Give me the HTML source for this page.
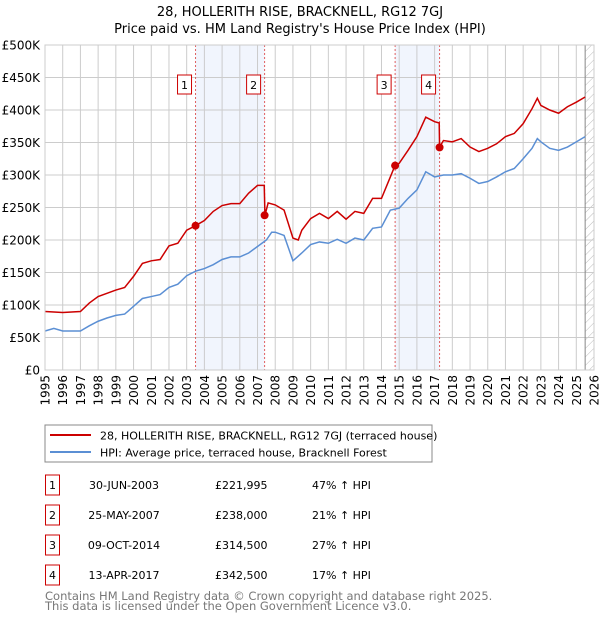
<!DOCTYPE html>
<html><head><meta charset="utf-8"><style>
body{margin:0;background:#fff;font-family:"DejaVu Sans","Liberation Sans",sans-serif;}
svg text{font-family:"DejaVu Sans","Liberation Sans",sans-serif;}
</style></head><body>
<svg id="c" width="600" height="620" xmlns="http://www.w3.org/2000/svg">
<defs><pattern id="hatch" width="6" height="6" patternUnits="userSpaceOnUse" patternTransform="rotate(45)"><line x1="0" y1="0" x2="0" y2="6" stroke="#bbb" stroke-width="1"/></pattern></defs>
<text x="300" y="16" text-anchor="middle" font-size="13">28, HOLLERITH RISE, BRACKNELL, RG12 7GJ</text>
<text x="300" y="33" text-anchor="middle" font-size="13">Price paid vs. HM Land Registry's House Price Index (HPI)</text>
<g id="plot"></g>
<rect x="45" y="425" width="387" height="37" fill="#fff" stroke="#888"/>
<line x1="50" y1="435" x2="91" y2="435" stroke="#cc0000" stroke-width="2"/>
<text x="100" y="439.5" font-size="11">28, HOLLERITH RISE, BRACKNELL, RG12 7GJ (terraced house)</text>
<line x1="50" y1="452" x2="91" y2="452" stroke="#5b8fd4" stroke-width="2"/>
<text x="100" y="456.5" font-size="11">HPI: Average price, terraced house, Bracknell Forest</text>
<g id="table" font-size="11"></g>
<text x="45" y="600" font-size="11.5" fill="#777">Contains HM Land Registry data © Crown copyright and database right 2025.</text>
<text x="45" y="610" font-size="11.5" fill="#777">This data is licensed under the Open Government Licence v3.0.</text>
</svg>
<script>
const hpiYears=[1995,1995.5,1996,1997,1997.5,1998,1998.5,1999,1999.5,2000,2000.5,2001,2001.5,2002,2002.5,2003,2003.5,2004,2004.5,2005,2005.5,2006,2006.5,2007,2007.5,2007.8,2008,2008.5,2009,2009.5,2010,2010.5,2011,2011.5,2012,2012.5,2013,2013.5,2014,2014.5,2015,2015.5,2016,2016.5,2017,2017.5,2018,2018.5,2019,2019.5,2020,2020.5,2021,2021.5,2022,2022.5,2022.8,2023,2023.5,2024,2024.5,2025,2025.5];
const hpiValues=[60,64,60,60,68,75,80,84,86,98,110,113,116,127,132,145,152,156,162,170,174,174,180,190,200,212,212,207,168,180,193,197,195,201,195,203,200,218,220,246,249,264,277,305,297,300,300,302,295,287,290,297,305,310,325,341,356,351,341,338,343,351,359];
const redYears=[1995,1996,1997,1997.5,1998,1998.5,1999,1999.5,2000,2000.5,2001,2001.5,2002,2002.5,2003,2003.5,2004,2004.5,2005,2005.5,2006,2006.5,2007,2007.38,2007.42,2007.6,2008,2008.5,2009,2009.3,2009.5,2010,2010.5,2011,2011.5,2012,2012.5,2013,2013.5,2014,2014.5,2014.77,2015,2015.5,2016,2016.5,2017,2017.26,2017.28,2017.5,2018,2018.5,2019,2019.5,2020,2020.5,2021,2021.5,2022,2022.5,2022.8,2023,2023.5,2024,2024.5,2025,2025.5];
const redValues=[90,88.5,90,103,113,118,123,127,144,164,168,170,191,195,215,222,230,244,253,256,256,272,284,284,238,257,254,246,203,200,215,233,241,233,244,232,244,241,264,264,297,315,318,338,359,389,382,380,343,353,351,356,343,336,341,348,359,364,379,402,418,407,400,395,405,412,420];
const saleLabels=["1","2","3","4"];
const saleDates=[2003.5,2007.4,2014.77,2017.28];
const salePrices=[221995,238000,314500,342500];
const saleDateText=["30-JUN-2003","25-MAY-2007","09-OCT-2014","13-APR-2017"];
const salePriceText=["£221,995","£238,000","£314,500","£342,500"];
const salePctText=["47% ↑ HPI","21% ↑ HPI","27% ↑ HPI","17% ↑ HPI"];
const yTicks=[0,50,100,150,200,250,300,350,400,450,500];
const yTickLabels=["£0","£50K","£100K","£150K","£200K","£250K","£300K","£350K","£400K","£450K","£500K"];
const xTicks=[1995,1996,1997,1998,1999,2000,2001,2002,2003,2004,2005,2006,2007,2008,2009,2010,2011,2012,2013,2014,2015,2016,2017,2018,2019,2020,2021,2022,2023,2024,2025,2026];

const X0=45,X1=594,Y0=370,Y1=45;
const xs=y=>X0+(y-1995)/(2026-1995)*(X1-X0);
const ys=v=>Y0-v/500*(Y0-Y1);
const NS="http://www.w3.org/2000/svg";
const g=document.getElementById('plot');
function mk(t,a,p){const e=document.createElementNS(NS,t);for(const k in a)e.setAttribute(k,a[k]);(p||g).appendChild(e);return e;}

// shaded spans
for(let i=0;i<4;i+=2){
 const r=mk('rect',{x:xs(saleDates[i]),y:Y1,width:xs(saleDates[i+1])-xs(saleDates[i]),height:Y0-Y1,fill:'#eef3fc',opacity:0.8});
 
 
}
// hatch
const h=mk('rect',{x:xs(2025.5),y:Y1,width:X1-xs(2025.5),height:Y0-Y1,fill:'url(#hatch)'});


// grid
yTicks.forEach((v,i)=>{
 const l=mk('line',{x1:X0,x2:X1,y1:ys(v),y2:ys(v),stroke:'#ccc','stroke-width':1});
 
 
 const t=mk('text',{x:40,y:ys(v)+4.5,'text-anchor':'end','font-size':12});
 t.textContent=yTickLabels[i];
 
 
});
xTicks.forEach(y=>{
 const l=mk('line',{x1:xs(y),x2:xs(y),y1:Y1,y2:Y0,stroke:'#ccc','stroke-width':1});
 
 
 const t=mk('text',{x:0,y:0,'text-anchor':'end','font-size':12,transform:`translate(${xs(y)+4.5},375) rotate(-90)`});
 t.textContent=y;
 
 
});
const ln=mk('line',{x1:xs(2025.5),x2:xs(2025.5),y1:Y1,y2:Y0,stroke:'#888'});


// sale vlines
saleDates.forEach((d,i)=>{
 const l=mk('line',{x1:xs(d),x2:xs(d),y1:Y1,y2:Y0,stroke:'#e06060','stroke-width':1,'stroke-dasharray':'2,2'});
 
 
});
// series
const pb=mk('polyline',{points:hpiYears.map((y,i)=>xs(y)+','+ys(hpiValues[i])).join(' '),fill:'none',stroke:'#5b8fd4','stroke-width':1.5});


const pr=mk('polyline',{points:redYears.map((y,i)=>xs(y)+','+ys(redValues[i])).join(' '),fill:'none',stroke:'#cc0000','stroke-width':1.5});


// markers and boxes
saleDates.forEach((d,i)=>{
 const c=mk('circle',{cx:xs(d),cy:ys(salePrices[i]/1000),r:4,fill:'#cc0000'});
 
 
 const b=mk('rect',{x:xs(d)-18,y:75,width:14,height:19,fill:'#fff',stroke:'#cc0000'});
 
 
 const t=mk('text',{x:xs(d)-11,y:89,'text-anchor':'middle','font-size':11});
 t.textContent=saleLabels[i];
 
 
});
// axis box
const ax=mk('rect',{x:X0,y:Y1,width:X1-X0,height:Y0-Y1,fill:'none',stroke:'#ccc'});


// table
const tb=document.getElementById('table');
saleLabels.forEach((s,i)=>{
 const cy=485+i*30;
 const b=mk('rect',{x:45.5,y:cy-10,width:14,height:20,fill:'#fff',stroke:'#cc0000'},tb);
 
 
 const t0=mk('text',{x:52.5,y:cy+4,'text-anchor':'middle'},tb);t0.textContent=s;
 
 
 const t1=mk('text',{x:124,y:cy+4,'text-anchor':'middle'},tb);t1.textContent=saleDateText[i];
 
 
 const t2=mk('text',{x:215,y:cy+4},tb);t2.textContent=salePriceText[i];
 
 
 const t3=mk('text',{x:312,y:cy+4},tb);t3.textContent=salePctText[i];
 
 
});
</script>
</body></html>
